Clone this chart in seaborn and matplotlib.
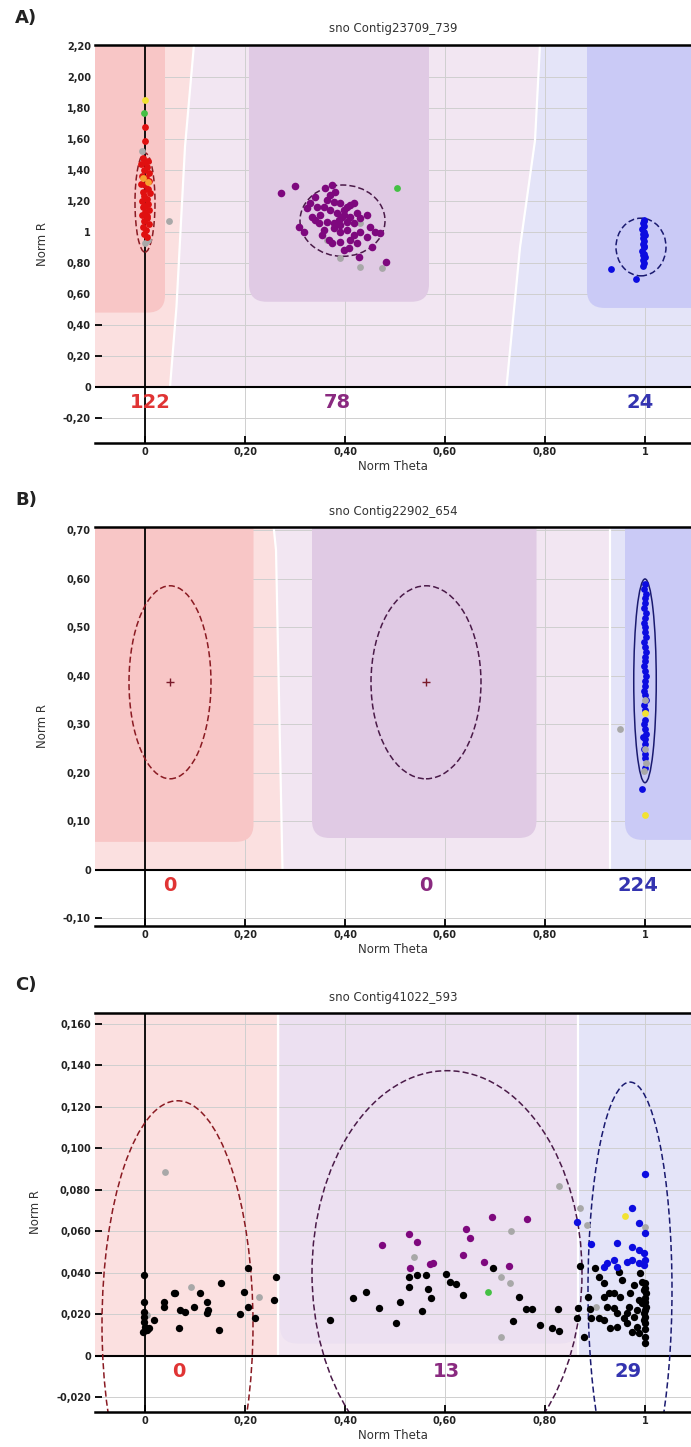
import numpy as np
import pandas as pd
import matplotlib
matplotlib.use("Agg")
import matplotlib.pyplot as plt
import seaborn as sns
from matplotlib.patches import Ellipse, FancyBboxPatch

# ---------------- data ----------------
titles = ["sno Contig23709_739", "sno Contig22902_654", "sno Contig41022_593"]
panel_letters = ["A)", "B)", "C)"]
x_ticks = [0, 0.2, 0.4, 0.6, 0.8, 1]
x_ticklabels = ["0", "0,20", "0,40", "0,60", "0,80", "1"]

A_yticks = [-0.2, 0, 0.2, 0.4, 0.6, 0.8, 1, 1.2, 1.4, 1.6, 1.8, 2.0, 2.2]
A_yticklabels = ["-0,20", "0", "0,20", "0,40", "0,60", "0,80", "1", "1,20", "1,40", "1,60", "1,80", "2,00", "2,20"]
B_yticks = [-0.1, 0, 0.1, 0.2, 0.3, 0.4, 0.5, 0.6, 0.7]
B_yticklabels = ["-0,10", "0", "0,10", "0,20", "0,30", "0,40", "0,50", "0,60", "0,70"]
C_yticks = [-0.02, 0, 0.02, 0.04, 0.06, 0.08, 0.10, 0.12, 0.14, 0.16]
C_yticklabels = ["-0,020", "0", "0,020", "0,040", "0,060", "0,080", "0,100", "0,120", "0,140", "0,160"]

A_counts = [("122", 0.01, -0.103, "AA"), ("78", 0.385, -0.103, "AB"), ("24", 0.99, -0.103, "BB")]
B_counts = [("0", 0.05, -0.033, "AA"), ("0", 0.562, -0.033, "AB"), ("224", 0.985, -0.033, "BB")]
C_counts = [("0", 0.067, -0.0077, "AA"), ("13", 0.603, -0.0077, "AB"), ("29", 0.967, -0.0077, "BB")]

# Panel A points
A_AA = [(0.0, 1.68), (0.0, 1.59), (-0.005, 1.48), (0.006, 1.46), (-0.008, 1.44), (0.004, 1.42),
        (-0.003, 1.40), (0.008, 1.38), (-0.006, 1.36), (0.002, 1.35), (0.007, 1.33), (-0.008, 1.31),
        (0.0, 1.30), (0.005, 1.28), (-0.005, 1.26), (0.009, 1.25), (-0.002, 1.23), (0.003, 1.21),
        (-0.007, 1.20), (0.006, 1.18), (-0.004, 1.16), (0.008, 1.14), (0.0, 1.13), (-0.006, 1.11),
        (0.004, 1.09), (-0.002, 1.07), (0.007, 1.05), (-0.005, 1.03), (0.002, 1.01), (-0.003, 0.99),
        (0.004, 0.97), (0.0, 1.45), (0.0, 1.17), (0.003, 1.10)]
A_AB = [(0.271, 1.25), (0.300, 1.297), (0.373, 1.303), (0.360, 1.282), (0.330, 1.185), (0.340, 1.228),
        (0.323, 1.153), (0.363, 1.206), (0.377, 1.196), (0.390, 1.185), (0.403, 1.163), (0.410, 1.174),
        (0.417, 1.185), (0.370, 1.142), (0.383, 1.120), (0.397, 1.110), (0.410, 1.099), (0.423, 1.120),
        (0.350, 1.110), (0.333, 1.099), (0.363, 1.067), (0.377, 1.056), (0.390, 1.045), (0.403, 1.067),
        (0.417, 1.056), (0.430, 1.088), (0.443, 1.110), (0.450, 1.034), (0.460, 1.002), (0.470, 0.991),
        (0.430, 1.002), (0.417, 0.981), (0.403, 1.013), (0.390, 1.002), (0.377, 1.024), (0.357, 1.013),
        (0.347, 1.056), (0.307, 1.034), (0.317, 1.002), (0.353, 0.981), (0.367, 0.948), (0.373, 0.927),
        (0.390, 0.938), (0.410, 0.948), (0.423, 0.927), (0.443, 0.970), (0.453, 0.905), (0.397, 0.884),
        (0.407, 0.895), (0.427, 0.841), (0.482, 0.809), (0.340, 1.077), (0.387, 1.077), (0.397, 1.142),
        (0.370, 1.239), (0.380, 1.260), (0.393, 1.099), (0.357, 1.163), (0.343, 1.163)]
A_BB = [(0.997, 1.08), (0.995, 1.06), (0.998, 1.04), (0.994, 1.02), (0.997, 1.00), (0.999, 0.98),
        (0.995, 0.96), (0.997, 0.94), (0.996, 0.92), (0.998, 0.90), (0.994, 0.88), (0.997, 0.86),
        (0.999, 0.84), (0.995, 0.82), (0.997, 0.80), (0.996, 0.78), (0.998, 1.07), (0.995, 0.99),
        (0.997, 0.91), (0.996, 0.85), (0.931, 0.76), (0.982, 0.695)]
A_NC = [(0.048, 1.07), (0.0, 0.93), (0.005, 0.95), (-0.006, 1.52), (0.43, 1.056), (0.363, 0.948),
        (0.39, 0.83), (0.43, 0.776), (0.473, 0.765)]
A_G = [(-0.002, 1.77), (0.503, 1.282)]
A_Y = [(0.0, 1.85)]
A_O = [(-0.004, 1.35), (0.006, 1.32)]

# Panel B points
B_BB = [(1.0, 0.59), (0.998, 0.58), (1.002, 0.57), (0.999, 0.56), (1.001, 0.55), (0.998, 0.54),
        (1.002, 0.53), (1.0, 0.52), (0.998, 0.51), (1.001, 0.50), (0.999, 0.49), (1.002, 0.48),
        (0.998, 0.47), (1.0, 0.46), (1.002, 0.45), (0.999, 0.44), (1.001, 0.43), (0.998, 0.42),
        (1.0, 0.41), (1.002, 0.40), (0.999, 0.39), (1.001, 0.38), (0.997, 0.37), (1.0, 0.36),
        (1.002, 0.35), (0.998, 0.34), (1.0, 0.33), (1.001, 0.31), (0.998, 0.30), (1.0, 0.29),
        (1.002, 0.28), (0.996, 0.275), (0.999, 0.27), (1.001, 0.26), (0.998, 0.25), (1.0, 0.24),
        (0.999, 0.23), (1.001, 0.21), (0.993, 0.168)]
B_NC = [(0.95, 0.291), (1.0, 0.25), (1.003, 0.22), (0.998, 0.205), (1.0, 0.35)]
B_Y = [(1.0, 0.324), (1.0, 0.113)]
B_centers = [(0.05, 0.387), (0.562, 0.387)]

# Panel C points
C_K = [(-0.003, 0.0390), (-0.003, 0.0262), (-0.003, 0.0214), (-0.003, 0.0190), (-0.002, 0.0165),
       (0.0, 0.0141), (0.003, 0.0125), (-0.005, 0.0117), (0.007, 0.0133), (0.017, 0.0173),
       (0.037, 0.0262), (0.038, 0.0238), (0.057, 0.0302), (0.060, 0.0302), (0.068, 0.0133),
       (0.070, 0.0222), (0.080, 0.0214), (0.097, 0.0238), (0.110, 0.0302), (0.123, 0.0262),
       (0.125, 0.0222), (0.123, 0.0206), (0.147, 0.0125), (0.151, 0.0350), (0.189, 0.0202),
       (0.197, 0.0310), (0.205, 0.0238), (0.205, 0.0423), (0.220, 0.0181), (0.258, 0.0270),
       (0.262, 0.0382), (0.369, 0.0173),
       (0.415, 0.0278), (0.442, 0.0307), (0.467, 0.0230), (0.502, 0.0161), (0.510, 0.0262),
       (0.527, 0.0382), (0.527, 0.0334), (0.543, 0.0390), (0.553, 0.0218), (0.563, 0.0390),
       (0.567, 0.0321), (0.573, 0.0278), (0.602, 0.0395), (0.610, 0.0358), (0.623, 0.0347),
       (0.637, 0.0294), (0.697, 0.0423), (0.735, 0.0169), (0.747, 0.0286), (0.762, 0.0227),
       (0.773, 0.0227), (0.790, 0.0149), (0.813, 0.0133), (0.827, 0.0121), (0.825, 0.0227),
       (0.865, 0.0230), (0.863, 0.0182), (0.877, 0.0090), (0.869, 0.0434), (0.885, 0.0286),
       (0.889, 0.0227), (0.891, 0.0182), (0.900, 0.0423), (0.907, 0.0382), (0.917, 0.0350),
       (0.907, 0.0182), (0.917, 0.0173), (0.923, 0.0238), (0.937, 0.0230), (0.930, 0.0133),
       (0.943, 0.0141), (0.947, 0.0406), (0.950, 0.0286), (0.953, 0.0366), (0.957, 0.0182),
       (0.963, 0.0157), (0.967, 0.0238), (0.970, 0.0302), (0.973, 0.0117), (0.977, 0.0342),
       (0.983, 0.0222), (0.983, 0.0141), (0.987, 0.0270), (0.990, 0.0398), (0.993, 0.0358),
       (0.997, 0.0318), (0.997, 0.0206), (0.998, 0.0173), (1.000, 0.0093), (1.000, 0.0061),
       (1.002, 0.0302), (1.003, 0.0238), (0.987, 0.0109), (0.993, 0.0254), (0.917, 0.0286),
       (0.937, 0.0302), (0.963, 0.0206), (0.977, 0.0190), (0.943, 0.0206), (0.927, 0.0302),
       (1.0, 0.035), (1.0, 0.033), (1.0, 0.028), (1.0, 0.026), (1.0, 0.022), (1.0, 0.019),
       (1.0, 0.016), (1.0, 0.013)]
C_AB = [(0.473, 0.0535), (0.527, 0.0588), (0.543, 0.0551), (0.529, 0.0423), (0.570, 0.0443),
        (0.577, 0.0450), (0.637, 0.0487), (0.643, 0.0610), (0.650, 0.0567), (0.677, 0.0455),
        (0.695, 0.0668), (0.729, 0.0434), (0.763, 0.0658)]
C_BB = [(1.0, 0.0877), (0.973, 0.0712), (0.987, 0.0642), (1.0, 0.0592), (0.863, 0.0648),
        (0.891, 0.0540), (0.943, 0.0543), (0.973, 0.0527), (0.987, 0.0511), (0.997, 0.0495),
        (1.0, 0.0463), (0.923, 0.0447), (0.937, 0.0463), (0.963, 0.0455), (0.987, 0.0447),
        (0.917, 0.0431), (0.943, 0.0431), (0.997, 0.0439), (0.973, 0.0463)]
C_NC = [(0.040, 0.0888), (0.091, 0.0334), (0.227, 0.0283), (0.003, 0.0198), (0.537, 0.0479),
        (0.713, 0.0379), (0.731, 0.0350), (0.732, 0.0604), (0.827, 0.0819), (0.870, 0.0712),
        (0.883, 0.0631), (0.713, 0.0093), (0.902, 0.0238), (1.0, 0.0623)]
C_G = [(0.685, 0.0307)]
C_Y = [(0.960, 0.0675)]

# cluster ellipses: (cx, cy, width, height, group)
A_ellipses = [(0.0, 1.19, 0.04, 0.64, "AA"), (0.395, 1.073, 0.17, 0.46, "AB"), (0.992, 0.903, 0.10, 0.372, "BB")]
B_ellipses = [(0.05, 0.387, 0.164, 0.398, "AA"), (0.562, 0.387, 0.22, 0.398, "AB"), (1.0, 0.39, 0.045, 0.42, "BB")]
C_ellipses = [(0.065, 0.015, 0.302, 0.216, "AA"), (0.604, 0.040, 0.54, 0.195, "AB"), (0.97, 0.032, 0.168, 0.20, "BB")]

# genotype regions
A_bound1 = ([0.05, 0.063, 0.08, 0.098], [0.0, 0.52, 1.55, 2.21])
A_bound2 = ([0.723, 0.75, 0.78, 0.79], [0.0, 0.9, 1.59, 2.21])
A_dark = [(-0.2, 0.04, 0.48, "#f8c6c6"), (0.208, 0.568, 0.55, "#e0cae4"), (0.884, 1.2, 0.51, "#cacaf6")]
B_bound1 = ([0.275, 0.262, 0.257], [0.0, 0.66, 0.71])
B_bound2 = ([0.93, 0.93], [0.0, 0.71])
B_dark = [(-0.2, 0.217, 0.058, "#f8c6c6"), (0.334, 0.783, 0.066, "#e0cae4"), (0.96, 1.2, 0.062, "#cacaf6")]
C_bound1 = ([0.265, 0.265], [0.0, 0.166])
C_bound2 = ([0.866, 0.866], [0.0, 0.166])
C_dark = [(0.27, 0.866, 0.006, "#ece0f1")]

# ---------------- style ----------------
sns.set_theme(style="white")
plt.rcParams["font.family"] = ["DejaVu Sans"]

point_colors = {"AA": "#e01010", "AB": "#7e087e", "BB": "#0c0ce0", "NC": "#a8a8a8",
                "G": "#44c044", "Y": "#f2e232", "O": "#f5a030", "K": "#000000"}
light_colors = {"AA": "#fbe0e0", "AB": "#f2e6f2", "BB": "#e4e4f8"}
ell_colors = {"AA": "#8a1a22", "AB": "#4a1a48", "BB": "#1a1a70"}
count_colors = {"AA": "#e03434", "AB": "#8a2a80", "BB": "#3434b0"}

fig = plt.figure(figsize=(6.91, 14.47), dpi=100)
W, H = 691, 1447

def make_df(groups):
    rows = []
    for g, pts in groups.items():
        for (x, y) in pts:
            rows.append({"theta": x, "r": y, "grp": g})
    return pd.DataFrame(rows)

panels = [
    dict(top=45, bottom=443, ylim=(-0.361, 2.206), yticks=A_yticks, ylabels=A_yticklabels,
         points={"NC": A_NC, "AA": A_AA, "O": A_O, "AB": A_AB, "BB": A_BB, "G": A_G, "Y": A_Y},
         ell=A_ellipses, solid_bb=False, b1=A_bound1, b2=A_bound2, dark=A_dark, dark_z=0.7,
         counts=A_counts, centers=[], size={"AB": 30}),
    dict(top=527, bottom=926, ylim=(-0.1155, 0.7072), yticks=B_yticks, ylabels=B_yticklabels,
         points={"BB": B_BB, "NC": B_NC, "Y": B_Y},
         ell=B_ellipses, solid_bb=True, b1=B_bound1, b2=B_bound2, dark=B_dark, dark_z=0.7,
         counts=B_counts, centers=B_centers, size={}),
    dict(top=1013, bottom=1412, ylim=(-0.027, 0.1653), yticks=C_yticks, ylabels=C_yticklabels,
         points={"NC": C_NC, "K": C_K, "AB": C_AB, "BB": C_BB, "G": C_G, "Y": C_Y},
         ell=C_ellipses, solid_bb=False, b1=C_bound1, b2=C_bound2, dark=C_dark, dark_z=0.3,
         counts=C_counts, centers=[], size={"K": 28, "AB": 28, "BB": 28}),
]
xlim = (-0.1, 1.092)
letter_y = [18, 500, 985]

for i, p in enumerate(panels):
    ax = fig.add_axes([95 / W, 1 - p["bottom"] / H, (W - 95) / W, (p["bottom"] - p["top"]) / H])
    ax.set_xlim(*xlim)
    ax.set_ylim(*p["ylim"])
    ytop = p["ylim"][1] + 0.05 * (p["ylim"][1] - p["ylim"][0])
    b1x, b1y = p["b1"]
    b2x, b2y = p["b2"]
    yy = np.linspace(0, ytop, 60)
    x1 = np.interp(yy, b1y, b1x)
    x2 = np.interp(yy, b2y, b2x)
    ax.fill_betweenx(yy, -0.2, x1, color=light_colors["AA"], lw=0, zorder=0.2)
    ax.fill_betweenx(yy, x1, x2, color=light_colors["AB"], lw=0, zorder=0.2)
    ax.fill_betweenx(yy, x2, 1.2, color=light_colors["BB"], lw=0, zorder=0.2)
    ax.plot(b1x, b1y, color="white", lw=1.6, zorder=0.9)
    ax.plot(b2x, b2y, color="white", lw=1.6, zorder=0.9)
    xr = xlim[1] - xlim[0]
    yr = p["ylim"][1] - p["ylim"][0]
    aspect = (yr / (p["bottom"] - p["top"])) / (xr / (W - 95))
    for (xa, xb, yb, col) in p["dark"]:
        box = FancyBboxPatch((xa, yb), xb - xa, ytop + yr - yb,
                             boxstyle="round,pad=0,rounding_size=0.035", mutation_aspect=aspect,
                             facecolor=col, edgecolor="none", zorder=p["dark_z"])
        ax.add_patch(box)
    ax.axhline(0, color="black", lw=1.5, zorder=1.5)
    ax.axvline(0, color="black", lw=1.3, zorder=1.5)
    for (cx, cy, w, h, g) in p["ell"]:
        ls = "-" if (g == "BB" and p["solid_bb"]) else (0, (4, 2))
        e = Ellipse((cx, cy), w, h, fill=False, edgecolor=ell_colors[g], lw=1.1, ls=ls, zorder=2.5)
        ax.add_patch(e)
    df = make_df(p["points"])
    for g in p["points"]:
        sub = df[df["grp"] == g]
        sns.scatterplot(data=sub, x="theta", y="r", color=point_colors[g], s=p["size"].get(g, 24),
                        linewidth=0, marker="o", ax=ax, zorder=3, legend=False)
    for (cx, cy) in p["centers"]:
        ax.plot([cx], [cy], marker="+", color="#7a1a2a", ms=6, mew=1.0, zorder=3)
    for (txt, cx, cy, g) in p["counts"]:
        ax.text(cx, cy, txt, ha="center", va="center", fontsize=14, fontweight="bold",
                color=count_colors[g], zorder=4)
    ax.set_axisbelow(True)
    ax.grid(True, color="#cfcfcf", lw=0.7)
    ax.set_xticks(x_ticks)
    ax.set_xticklabels(x_ticklabels)
    ax.set_yticks(p["yticks"])
    ax.set_yticklabels(p["ylabels"])
    ax.tick_params(direction="in", length=5, width=1.3, colors="black", labelsize=7,
                   pad=3, left=True, bottom=True)
    for lab in ax.get_xticklabels() + ax.get_yticklabels():
        lab.set_fontweight("bold")
        lab.set_color("#222222")
    for s in ["left", "right"]:
        ax.spines[s].set_visible(False)
    for s in ["top", "bottom"]:
        ax.spines[s].set_visible(True)
        ax.spines[s].set_color("black")
        ax.spines[s].set_linewidth(1.8)
    ax.set_xlabel("Norm Theta", fontsize=8.5, color="#333333", labelpad=2)
    ax.set_ylabel("Norm R", fontsize=8.5, color="#333333", labelpad=10)
    ax.set_title(titles[i], fontsize=8.5, color="#333333", pad=9)
    fig.text(15 / W, 1 - letter_y[i] / H, panel_letters[i], fontsize=13, fontweight="bold",
             ha="left", va="center", color="#222222")

fig.savefig("out.png", dpi=100)
